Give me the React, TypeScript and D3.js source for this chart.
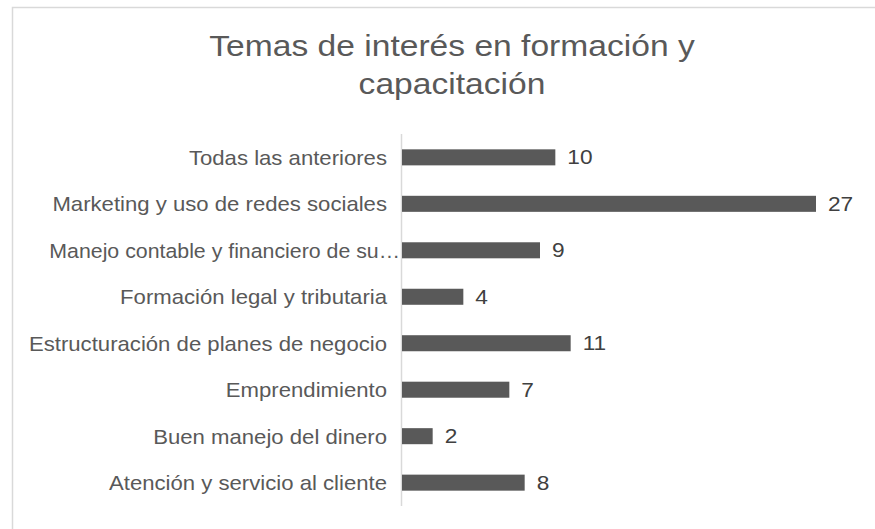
import React from "react";
import * as d3 from "d3";

const categories = [
  "Todas las anteriores",
  "Marketing y uso de redes sociales",
  "Manejo contable y financiero de su…",
  "Formación legal y tributaria",
  "Estructuración de planes de negocio",
  "Emprendimiento",
  "Buen manejo del dinero",
  "Atención y servicio al cliente",
];
const values = [10, 27, 9, 4, 11, 7, 2, 8];
const titleLines = ["Temas de interés en formación y", "capacitación"];

const W = 875;
const H = 529;

export default function App() {
  const x = d3.scaleLinear().domain([0, 27]).range([402, 816]);
  const y = d3.scaleBand<string>().domain(categories).range([134, 506]).paddingInner(0.655).paddingOuter(0.33);
  const font = "'Liberation Sans', Arial, sans-serif";
  const sx = 1.08;
  return (
    <svg width={W} height={H} style={{ position: "absolute", left: 0, top: 0, background: "#fff" }}>
      <rect x={12.5} y={7.5} width={W} height={H} fill="#fff" stroke="#d9d9d9" strokeWidth={1.5} />
      {titleLines.map((t, i) => (
        <text
          key={i}
          transform={`translate(452, ${56 + i * 38}) scale(1.12, 1)`}
          textAnchor="middle"
          fontFamily={font}
          fontSize={30}
          fill="#595959"
        >
          {t}
        </text>
      ))}
      <line x1={401.5} x2={401.5} y1={134} y2={506} stroke="#d9d9d9" strokeWidth={1.5} />
      {categories.map((c, i) => {
        const yy = y(c)!;
        const bw = y.bandwidth();
        const cy = yy + bw / 2;
        const truncated = c.endsWith("…");
        return (
          <g key={c}>
            <rect x={x(0)} y={yy} width={x(values[i]) - x(0)} height={bw} fill="#595959" />
            <text
              transform={`translate(${truncated ? 400 : 387}, ${cy}) scale(${truncated ? 1.04 : sx}, 1)`}
              dy="0.36em"
              textAnchor="end"
              fontFamily={font}
              fontSize={20.5}
              fill="#595959"
            >
              {c}
            </text>
            <text
              transform={`translate(${x(values[i]) + 12}, ${cy}) scale(${sx}, 1)`}
              dy="0.34em"
              textAnchor="start"
              fontFamily={font}
              fontSize={21}
              fill="#404040"
            >
              {values[i]}
            </text>
          </g>
        );
      })}
    </svg>
  );
}
